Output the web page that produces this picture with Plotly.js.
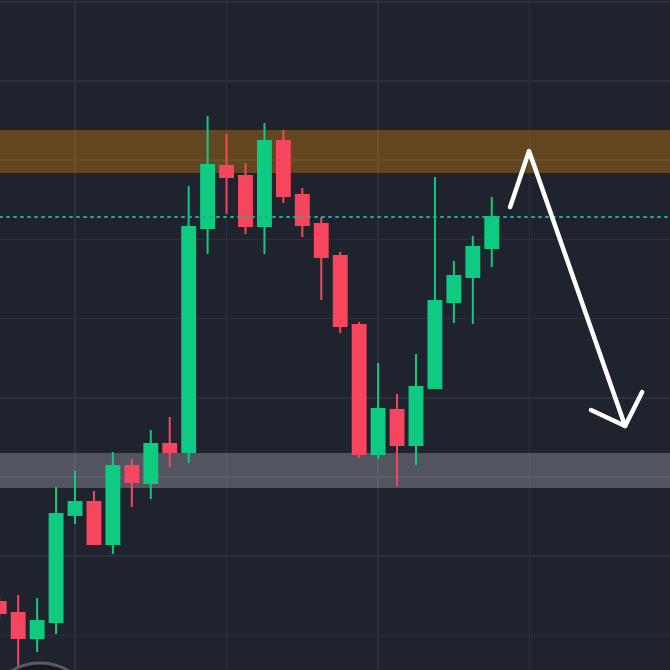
<!DOCTYPE html>
<html>
<head>
<meta charset="utf-8">
<script src="https://cdn.plot.ly/plotly-3.0.1.min.js"></script>
<style>
  html, body { margin: 0; padding: 0; background: #1f232e; }
  #chart { width: 670px; height: 670px; }
  .shapelayer path { stroke-linecap: round; stroke-linejoin: round; }
</style>
</head>
<body>
<div id="chart"></div>
<script>
// Candle index (time slots)
var candleIndex = [0,1,2,3,4,5,6,7,8,9,10,11,12,13,14,15,16,17,18,19,20,21,22,23,24,25,26];
var openPrices  = [84.22, 82.83, 79.67, 81.69, 95.20, 96.84, 91.54, 101.39, 99.24, 104.17, 103.16, 131.44, 139.27, 138.01, 131.69, 142.42, 135.61, 131.94, 127.90, 119.19, 102.90, 108.46, 104.04, 111.24, 122.10, 125.25, 128.91];
var highPrices  = [84.72, 85.10, 84.72, 98.74, 100.76, 98.23, 103.16, 102.27, 105.93, 107.58, 136.74, 145.58, 143.31, 139.65, 144.70, 143.81, 136.49, 132.83, 128.41, 119.57, 114.39, 110.48, 115.53, 137.88, 127.27, 130.43, 135.35];
var lowPrices   = [82.20, 74.37, 77.90, 80.18, 94.07, 91.41, 90.28, 96.21, 97.22, 101.26, 101.77, 128.16, 133.21, 130.68, 128.16, 134.60, 130.30, 122.35, 118.18, 102.40, 102.27, 98.86, 101.52, 111.24, 119.44, 119.32, 126.52];
var closePrices = [82.83, 79.67, 81.82, 95.33, 96.84, 91.54, 101.39, 99.37, 104.17, 103.16, 131.57, 139.39, 137.88, 131.69, 142.42, 135.48, 131.82, 127.78, 119.07, 102.90, 108.59, 104.04, 111.36, 122.22, 125.38, 129.04, 132.83];

// Zones and current price line
var resistanceZone = [138.38, 143.81];
var supportZone    = [98.61, 103.03];
var lastPrice      = 132.83;

// Drawn arrow (time slot, price)
var arrowX = [26.97, 27.97, 33.04];
var arrowY = [134.09, 141.16, 106.44];
var headX  = [31.24, 33.04, 33.94];
var headY  = [108.46, 106.44, 110.73];

var GREEN = '#0ecb81', RED = '#f6465d';

var trace = {
  type: 'candlestick',
  x: candleIndex,
  open: openPrices, high: highPrices, low: lowPrices, close: closePrices,
  increasing: { line: { color: GREEN, width: 2 }, fillcolor: GREEN },
  decreasing: { line: { color: RED, width: 2 }, fillcolor: RED },
  whiskerwidth: 0,
  hoverinfo: 'skip',
  showlegend: false
};

function pathOf(xs, ys) {
  return xs.map(function (x, i) { return (i ? 'L ' : 'M ') + x + ',' + ys[i]; }).join(' ');
}

var layout = {
  width: 670, height: 670,
  margin: { l: 0, r: 0, t: 0, b: 0, pad: 0 },
  paper_bgcolor: '#1f232e',
  plot_bgcolor: '#1f232e',
  showlegend: false,
  boxgap: 0.32,
  boxgroupgap: 0,
  xaxis: {
    range: [0.04, 35.41],
    showticklabels: false, ticks: '', zeroline: false, showline: false,
    showgrid: true, gridcolor: '#2b303b', gridwidth: 1.5,
    tick0: 4, dtick: 8,
    rangeslider: { visible: false },
    fixedrange: true
  },
  yaxis: {
    range: [75.63, 160.23],
    showticklabels: false, ticks: '', zeroline: false, showline: false,
    showgrid: true, gridcolor: '#2b303b', gridwidth: 1.5,
    tick0: 0, dtick: 10,
    fixedrange: true
  },
  shapes: [
    { type: 'rect', xref: 'x', yref: 'y', x0: -5, x1: 40,
      y0: resistanceZone[0], y1: resistanceZone[1],
      fillcolor: 'rgba(255,152,0,0.30)', line: { width: 0 }, layer: 'between' },
    { type: 'rect', xref: 'x', yref: 'y', x0: -5, x1: 40,
      y0: supportZone[0], y1: supportZone[1],
      fillcolor: 'rgba(190,192,200,0.32)', line: { width: 0 }, layer: 'between' },
    { type: 'line', xref: 'paper', yref: 'y', x0: 0, x1: 1,
      y0: lastPrice, y1: lastPrice,
      line: { color: '#1fae94', width: 2, dash: '2px,5px' }, layer: 'above' },
    { type: 'path', xref: 'x', yref: 'y', path: pathOf(arrowX, arrowY),
      line: { color: '#ffffff', width: 4.5 }, layer: 'above' },
    { type: 'path', xref: 'x', yref: 'y', path: pathOf(headX, headY),
      line: { color: '#ffffff', width: 4.5 }, layer: 'above' },
    { type: 'circle', xref: 'x', yref: 'y', x0: -0.75, x1: 5.06, y0: 62.63, y1: 76.52,
      fillcolor: '#17191e', line: { color: '#5a5c62', width: 3 }, layer: 'above' }
  ]
};

Plotly.newPlot('chart', [trace], layout, { staticPlot: true, displayModeBar: false });
</script>
</body>
</html>
